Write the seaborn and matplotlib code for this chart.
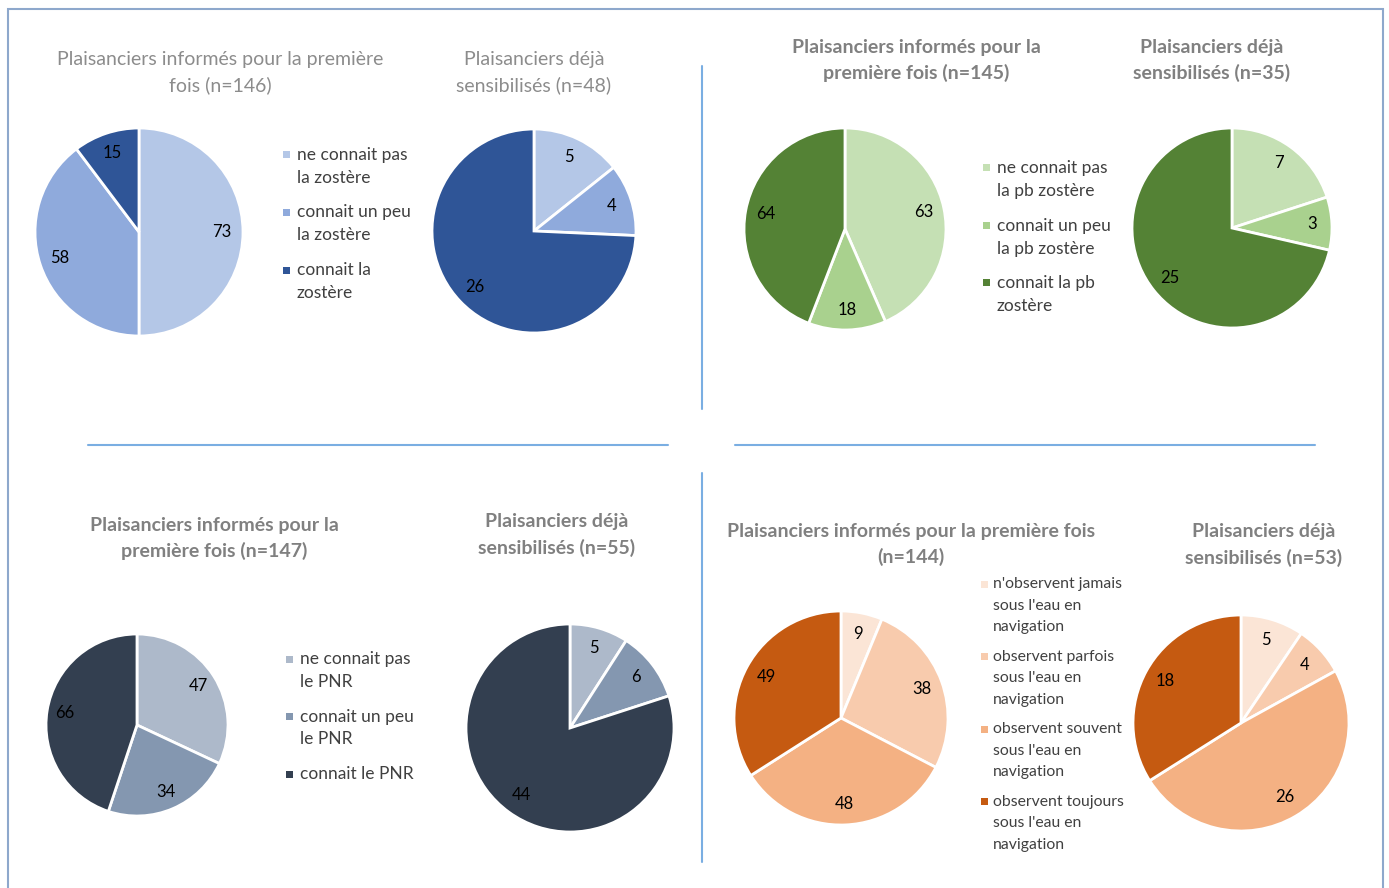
import matplotlib
matplotlib.use("Agg")
import matplotlib.pyplot as plt
from matplotlib.lines import Line2D
from matplotlib.patches import Rectangle
import seaborn as sns

W, H = 1389, 888

# --- data -------------------------------------------------------------
title_first = ["Plaisanciers informés pour la première\nfois (n=146)",
               "Plaisanciers informés pour la\npremière fois (n=145)",
               "Plaisanciers informés pour la\npremière fois (n=147)",
               "Plaisanciers informés pour la première fois\n(n=144)"]
title_before = ["Plaisanciers déjà\nsensibilisés (n=48)",
                "Plaisanciers déjà\nsensibilisés (n=35)",
                "Plaisanciers déjà\nsensibilisés (n=55)",
                "Plaisanciers déjà\nsensibilisés (n=53)"]

zostere_labels = ["ne connait pas\nla zostère", "connait un peu\nla zostère", "connait la\nzostère"]
zostere_first = [73, 58, 15]
zostere_before = [5, 4, 26]

pb_labels = ["ne connait pas\nla pb zostère", "connait un peu\nla pb zostère", "connait la pb\nzostère"]
pb_first = [63, 18, 64]
pb_before = [7, 3, 25]

pnr_labels = ["ne connait pas\nle PNR", "connait un peu\nle PNR", "connait le PNR"]
pnr_first = [47, 34, 66]
pnr_before = [5, 6, 44]

obs_labels = ["n'observent jamais\nsous l'eau en\nnavigation",
              "observent parfois\nsous l'eau en\nnavigation",
              "observent souvent\nsous l'eau en\nnavigation",
              "observent toujours\nsous l'eau en\nnavigation"]
obs_first = [9, 38, 48, 49]
obs_before = [5, 4, 26, 18]

blues = ["#B4C7E7", "#8FAADC", "#2F5597"]
greens = ["#C5E0B4", "#A9D18E", "#548235"]
greys = ["#ADB9CA", "#8497B0", "#333F50"]
oranges = ["#FBE5D6", "#F8CBAD", "#F4B183", "#C55A11"]

sns.set_theme(style="white")
plt.rcParams["font.family"] = ["Lato", "DejaVu Sans"]

fig = plt.figure(figsize=(W / 100, H / 100), dpi=100)


def fx(x):
    return x / W


def fy(y):
    return 1 - y / H


def draw_pie(values, colors, cx, cy, r):
    ax = fig.add_axes([fx(cx - r), fy(cy + r), 2 * r / W, 2 * r / H])
    total = sum(values)
    wedges, texts, autotexts = ax.pie(
        values, colors=colors, startangle=90, counterclock=False,
        autopct=lambda p: f"{round(p * total / 100)}", pctdistance=0.8,
        wedgeprops=dict(edgecolor="white", linewidth=2),
        textprops=dict(color="black", fontsize=12))
    for w in wedges:
        w.set_clip_on(False)
    ax.set_xlim(-1, 1)
    ax.set_ylim(-1, 1)
    ax.set_aspect("equal")
    ax.axis("off")


def draw_title(text, cx, y, bold):
    color = "#808080" if bold else "#8C8C8C"
    for j, line in enumerate(text.split("\n")):
        fig.text(fx(cx), fy(y + j * 26), line, ha="center", va="center",
                 fontsize=14, color=color, fontweight="bold" if bold else "normal")


def draw_legend(labels, colors, mx, tx, y0, step, lstep, size=12.5):
    for i, (lab, col) in enumerate(zip(labels, colors)):
        y = y0 + i * step
        fig.add_artist(Rectangle((fx(mx), fy(y + 3.5)), 7 / W, 7 / H,
                                 transform=fig.transFigure, color=col, lw=0))
        for j, line in enumerate(lab.split("\n")):
            fig.text(fx(tx), fy(y + j * lstep), line, ha="left", va="center",
                     fontsize=size, color="#404040")


# top left : zostère
draw_pie(zostere_first, blues, 139, 232, 104)
draw_pie(zostere_before, blues, 534, 231, 102)
draw_title(title_first[0], 220, 59, False)
draw_title(title_before[0], 534, 59, False)
draw_legend(zostere_labels, blues, 283, 297, 155, 57.5, 22.5)

# top right : pb zostère
draw_pie(pb_first, greens, 845, 229, 101)
draw_pie(pb_before, greens, 1232, 228, 100)
draw_title(title_first[1], 916, 47, True)
draw_title(title_before[1], 1212, 47, True)
draw_legend(pb_labels, greens, 983, 997, 168, 57.5, 23)

# bottom left : PNR
draw_pie(pnr_first, greys, 137, 725, 91)
draw_pie(pnr_before, greys, 570, 728, 104)
draw_title(title_first[2], 214, 525, True)
draw_title(title_before[2], 557, 522, True)
draw_legend(pnr_labels, greys, 286, 300, 659, 57.5, 22.5)

# bottom right : observation
draw_pie(obs_first, oranges, 841, 718, 107)
draw_pie(obs_before, oranges, 1241, 723, 108)
draw_title(title_first[3], 911, 531, True)
draw_title(title_before[3], 1264, 532, True)
draw_legend(obs_labels, oranges, 981, 993, 584, 72.5, 21.5, size=11.3)

# separators and frame
sep = "#7AAEE2"
for (x0, y0, x1, y1) in [(702, 66, 702, 409), (702, 473, 702, 862),
                         (88, 445, 668, 445), (735, 445, 1315, 445)]:
    fig.add_artist(Line2D([fx(x0), fx(x1)], [fy(y0), fy(y1)],
                          transform=fig.transFigure, color=sep, lw=1.5))
fig.add_artist(Rectangle((fx(8), fy(900)), (1383 - 8) / W, (900 - 9) / H,
                         transform=fig.transFigure, fill=False,
                         edgecolor="#8EA8CC", lw=1.5))

fig.savefig("out.png", dpi=100, facecolor="white")
